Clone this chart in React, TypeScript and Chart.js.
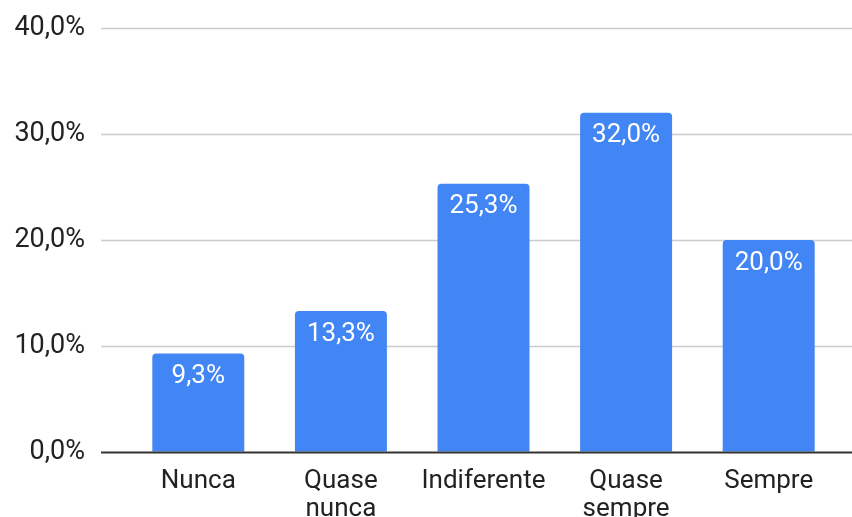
import React, { useEffect, useRef } from "react";
import { Chart, registerables } from "chart.js";

Chart.register(...registerables);

const categories: (string | string[])[] = [
  "Nunca",
  ["Quase", "nunca"],
  "Indiferente",
  ["Quase", "sempre"],
  "Sempre",
];
const shares: number[] = [9.3, 13.3, 25.3, 32.0, 20.0];
const yTicks: number[] = [0, 10, 20, 30, 40];

const BAR_BLUE = "#4285F4";
const TEXT = "#222222";
const FONT = "Roboto, Arial, sans-serif";

const fmt = (v: number) => v.toFixed(1).replace(".", ",") + "%";

// Horizontal gridlines and baseline spanning the full plot band
const gridPlugin = {
  id: "fullGrid",
  beforeDatasetsDraw(chart: any) {
    const { ctx } = chart;
    const y = chart.scales.y;
    ctx.save();
    yTicks.forEach((t) => {
      if (t === 0) return;
      const py = Math.round(y.getPixelForValue(t)) + 0.5;
      ctx.beginPath();
      ctx.lineWidth = 1.5;
      ctx.strokeStyle = "#cccccc";
      ctx.moveTo(101, py);
      ctx.lineTo(chart.width, py);
      ctx.stroke();
    });
    ctx.restore();
  },
  afterDatasetsDraw(chart: any) {
    const { ctx } = chart;
    const y = chart.scales.y;
    const py = Math.round(y.getPixelForValue(0)) + 0.5;
    ctx.save();
    ctx.beginPath();
    ctx.lineWidth = 2;
    ctx.strokeStyle = "#333333";
    ctx.moveTo(101, py);
    ctx.lineTo(chart.width, py);
    ctx.stroke();
    ctx.restore();
  },
};

// Value labels inside the top of each bar
const valueLabelPlugin = {
  id: "valueLabels",
  afterDatasetsDraw(chart: any) {
    const { ctx } = chart;
    const meta = chart.getDatasetMeta(0);
    ctx.save();
    ctx.fillStyle = "#ffffff";
    ctx.font = `26px ${FONT}`;
    ctx.textAlign = "center";
    ctx.textBaseline = "middle";
    meta.data.forEach((bar: any, i: number) => {
      ctx.fillText(fmt(shares[i]), bar.x, bar.y + 23);
    });
    ctx.restore();
  },
};

export default function App() {
  const canvasRef = useRef<HTMLCanvasElement | null>(null);

  useEffect(() => {
    document.body.style.margin = "0";
    const canvas = canvasRef.current;
    if (!canvas) return;
    const chart = new Chart(canvas, {
      type: "bar",
      data: {
        labels: categories,
        datasets: [
          {
            data: shares,
            backgroundColor: BAR_BLUE,
            borderRadius: { topLeft: 4, topRight: 4, bottomLeft: 0, bottomRight: 0 },
            borderSkipped: "bottom",
            categoryPercentage: 1,
            barPercentage: 0.645,
          },
        ],
      },
      options: {
        responsive: false,
        animation: false,
        layout: { padding: { top: 28, right: 12, left: 0, bottom: 0 } },
        plugins: {
          legend: { display: false },
          tooltip: { enabled: false },
        },
        scales: {
          x: {
            grid: { display: false, drawTicks: false },
            border: { display: false },
            ticks: {
              color: TEXT,
              font: { family: FONT, size: 26, lineHeight: 1.1 },
              padding: 15,
              maxRotation: 0,
              autoSkip: false,
            },
            afterFit(scale: any) {
              scale.height = 65;
            },
          },
          y: {
            min: 0,
            max: 40,
            grid: {
              display: true,
              drawOnChartArea: false,
              drawTicks: true,
              tickLength: 40,
              color: "rgba(0,0,0,0)",
            },
            border: { display: false },
            ticks: {
              stepSize: 10,
              color: TEXT,
              font: { family: FONT, size: 27 },
              padding: 2,
              callback: (v: any) => fmt(Number(v)),
            },
            afterFit(scale: any) {
              scale.width = 127;
            },
          },
        },
      },
      plugins: [gridPlugin, valueLabelPlugin],
    });
    return () => chart.destroy();
  }, []);

  return (
    <div style={{ position: "absolute", left: 0, top: 0, width: 852, height: 517 }}>
      <canvas ref={canvasRef} width={852} height={517} />
    </div>
  );
}
